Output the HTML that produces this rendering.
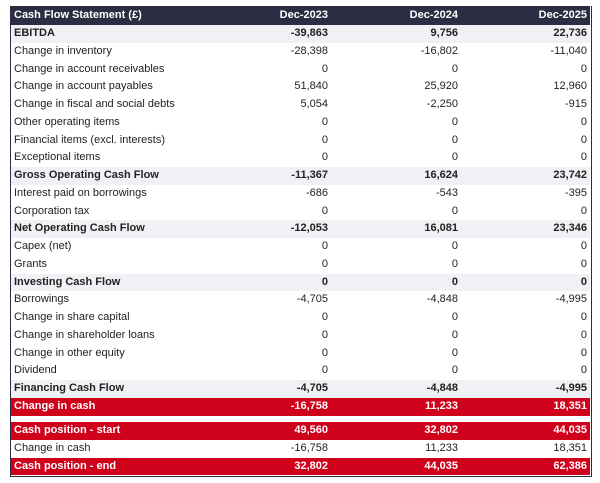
<!DOCTYPE html>
<html><head><meta charset="utf-8"><style>
*{margin:0;padding:0;box-sizing:border-box}
body{width:600px;height:483px;background:#fff;font-family:"Liberation Sans",sans-serif;font-size:11px;color:#222;position:relative;overflow:hidden}
#t{position:absolute;left:10px;top:6px;width:582px;height:471px;border:1.5px solid #2b2d42;border-top:none}
.r{position:absolute;left:0;width:579px;height:17.76px;line-height:17.76px}
.r span{position:absolute;top:0}
.l{left:3px}
.a{right:262px}.b{right:132px}.c{right:3px}
.s{background:#eff1f4;font-weight:bold}
.red{background:#d0021b;color:#fff;font-weight:bold}
.h{background:#2b2d42;color:#fff;font-weight:bold;height:19px;line-height:19px}
</style></head><body><div id="t">
<div class="r h" style="top:0"><span class="l">Cash Flow Statement (£)</span><span class="a">Dec-2023</span><span class="b">Dec-2024</span><span class="c">Dec-2025</span></div>
<div class="r s" style="top:19px"><span class="l">EBITDA</span><span class="a">-39,863</span><span class="b">9,756</span><span class="c">22,736</span></div>
<div class="r" style="top:36.76px"><span class="l">Change in inventory</span><span class="a">-28,398</span><span class="b">-16,802</span><span class="c">-11,040</span></div>
<div class="r" style="top:54.52px"><span class="l">Change in account receivables</span><span class="a">0</span><span class="b">0</span><span class="c">0</span></div>
<div class="r" style="top:72.28px"><span class="l">Change in account payables</span><span class="a">51,840</span><span class="b">25,920</span><span class="c">12,960</span></div>
<div class="r" style="top:90.04px"><span class="l">Change in fiscal and social debts</span><span class="a">5,054</span><span class="b">-2,250</span><span class="c">-915</span></div>
<div class="r" style="top:107.8px"><span class="l">Other operating items</span><span class="a">0</span><span class="b">0</span><span class="c">0</span></div>
<div class="r" style="top:125.56px"><span class="l">Financial items (excl. interests)</span><span class="a">0</span><span class="b">0</span><span class="c">0</span></div>
<div class="r" style="top:143.32px"><span class="l">Exceptional items</span><span class="a">0</span><span class="b">0</span><span class="c">0</span></div>
<div class="r s" style="top:161.08px"><span class="l">Gross Operating Cash Flow</span><span class="a">-11,367</span><span class="b">16,624</span><span class="c">23,742</span></div>
<div class="r" style="top:178.84px"><span class="l">Interest paid on borrowings</span><span class="a">-686</span><span class="b">-543</span><span class="c">-395</span></div>
<div class="r" style="top:196.6px"><span class="l">Corporation tax</span><span class="a">0</span><span class="b">0</span><span class="c">0</span></div>
<div class="r s" style="top:214.36px"><span class="l">Net Operating Cash Flow</span><span class="a">-12,053</span><span class="b">16,081</span><span class="c">23,346</span></div>
<div class="r" style="top:232.12px"><span class="l">Capex (net)</span><span class="a">0</span><span class="b">0</span><span class="c">0</span></div>
<div class="r" style="top:249.88px"><span class="l">Grants</span><span class="a">0</span><span class="b">0</span><span class="c">0</span></div>
<div class="r s" style="top:267.64px"><span class="l">Investing Cash Flow</span><span class="a">0</span><span class="b">0</span><span class="c">0</span></div>
<div class="r" style="top:285.4px"><span class="l">Borrowings</span><span class="a">-4,705</span><span class="b">-4,848</span><span class="c">-4,995</span></div>
<div class="r" style="top:303.16px"><span class="l">Change in share capital</span><span class="a">0</span><span class="b">0</span><span class="c">0</span></div>
<div class="r" style="top:320.92px"><span class="l">Change in shareholder loans</span><span class="a">0</span><span class="b">0</span><span class="c">0</span></div>
<div class="r" style="top:338.68px"><span class="l">Change in other equity</span><span class="a">0</span><span class="b">0</span><span class="c">0</span></div>
<div class="r" style="top:356.44px"><span class="l">Dividend</span><span class="a">0</span><span class="b">0</span><span class="c">0</span></div>
<div class="r s" style="top:374.2px"><span class="l">Financing Cash Flow</span><span class="a">-4,705</span><span class="b">-4,848</span><span class="c">-4,995</span></div>
<div class="r red" style="top:391.96px"><span class="l">Change in cash</span><span class="a">-16,758</span><span class="b">11,233</span><span class="c">18,351</span></div>
<div class="r red" style="top:416px"><span class="l">Cash position - start</span><span class="a">49,560</span><span class="b">32,802</span><span class="c">44,035</span></div>
<div class="r" style="top:433.76px"><span class="l">Change in cash</span><span class="a">-16,758</span><span class="b">11,233</span><span class="c">18,351</span></div>
<div class="r red" style="top:451.52px"><span class="l">Cash position - end</span><span class="a">32,802</span><span class="b">44,035</span><span class="c">62,386</span></div>
</div></body></html>
